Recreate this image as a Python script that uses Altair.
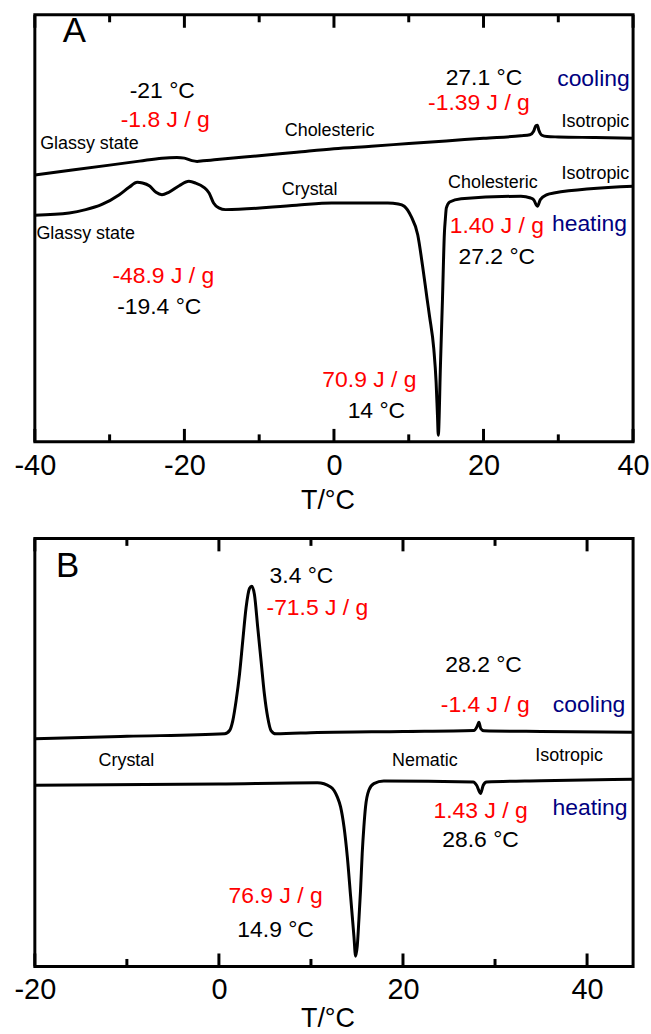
import altair as alt
import pandas as pd

FONT = "Liberation Sans"

# ---------------- Panel A data (heat flow in a.u., exo up) ----------------
A_COOL_T = [-40, -35, -30, -26, -23, -22, -21, -20, -19, -18.3, -17.5, -16, -10, -5, 0, 5, 10, 15, 20, 25,
            26.2, 26.7, 27.0, 27.2, 27.4, 27.8, 28.5, 30, 35, 40]
A_COOL_Q = [268, 273, 278, 282, 285, 285.5, 285.7, 285, 282.5, 281.7, 282.3, 283.3, 287.5, 291, 294.5, 297,
            299.7, 302.3, 305, 307.5, 308.5, 312, 317.5, 318, 313, 308, 306.7, 306.3, 305.7, 305]

A_HEAT_T = [-40, -35.4, -33.2, -31.1, -28.7, -27.4, -26.3, -25.6, -24.7, -23.8, -23, -22.1, -20.7, -19.4,
            -18.5, -17.4, -16.7, -16.1, -15.4, -14.5, -5, -0.3, 7.2, 8.6, 9.4, 10.3, 11.2, 11.85, 12.46,
            12.77, 13.35, 13.66, 13.84, 13.95, 14.24, 14.51, 14.77, 14.89, 15.03, 15.47, 17, 25, 26.3,
            26.7, 27.2, 27.6, 28.5, 29.4, 40]
A_HEAT_Q = [227.7, 230, 233.3, 238.3, 248.3, 255.7, 260.7, 260, 257.3, 250.7, 248.3, 250.7, 257.3, 261.7,
            260, 255.7, 250, 240, 235, 233.3, 237.8, 240, 240, 239, 236.7, 226.7, 208, 176.7, 143.3,
            126.7, 93.3, 60, 26.7, 6.7, 76.7, 143.3, 210, 223.3, 235, 241, 244.3, 246.7, 245,
            243.3, 236.7, 243.3, 248.3, 250, 256.7]

A_MAJOR = [-40, -20, 0, 20, 40]
A_MINOR = [-30, -10, 10, 30]

A_LETTER = [(-34.7, 411, "A")]
A_BLACK = [(-22.96, 350, "-21 °C"), (20.05, 363, "27.1 °C"), (21.78, 184, "27.2 °C"),
           (-23.36, 133, "-19.4 °C"), (5.67, 29, "14 °C")]
A_RED = [(-22.56, 321, "-1.8 J / g"), (19.39, 338, "-1.39 J / g"), (21.78, 215, "1.40 J / g"),
         (-22.82, 165, "-48.9 J / g"), (4.74, 60.5, "70.9 J / g")]
A_BLUE = [(34.7, 362, "cooling"), (34.17, 217, "heating")]
A_PHASE = [(-32.7, 297, "Glassy state"), (-33.2, 207, "Glassy state"), (-0.59, 310, "Cholesteric"),
           (-3.25, 251, "Crystal"), (34.97, 319, "Isotropic"), (34.97, 267, "Isotropic"),
           (21.25, 258, "Cholesteric")]

# ---------------- Panel B data ----------------
B_COOL_T = [-20, -10, 0.62, 1.16, 1.51, 1.87, 2.24, 2.59, 2.95, 3.32, 3.57, 3.86, 4.22, 4.58, 4.94, 5.30,
            5.66, 6.19, 10.7, 20, 27.7, 28.05, 28.25, 28.45, 28.8, 35, 45]
B_COOL_Q = [228.7, 231.2, 233.7, 237, 247, 267, 293.7, 327, 360.3, 379.7, 382, 373.7, 340.3, 307, 273.7,
            250.3, 237, 233.7, 235, 236, 237, 241, 245.3, 239, 236.8, 236, 235.3]

B_HEAT_T = [-20, 0, 10.7, 12.14, 12.86, 13.22, 13.59, 13.95, 14.31, 14.67, 14.85, 15.03, 15.21, 15.39,
            15.57, 15.75, 15.93, 16.29, 16.83, 17.91, 27.64, 28.0, 28.43, 28.72, 29.08, 35, 45]
B_HEAT_Q = [182, 183.2, 184.5, 180.3, 170.3, 160.3, 140.3, 110.3, 70.3, 30.3, 10.3, 20.3, 47, 77,
            113.7, 140.3, 160.3, 177, 183.7, 186.3, 185.3, 182, 173.7, 182, 185.3, 186.5, 188]

B_MAJOR = [-20, 0, 20, 40]
B_MINOR = [-10, 10, 30]

B_LETTER = [(-16.43, 400, "B")]
B_BLACK = [(8.97, 390.5, "3.4 °C"), (28.76, 300.5, "28.2 °C"), (28.43, 124.5, "28.6 °C"),
           (6.16, 34.5, "14.9 °C")]
B_RED = [(10.7, 358, "-71.5 J / g"), (28.94, 260.5, "-1.4 J / g"), (28.43, 154.5, "1.43 J / g"),
         (6.16, 68.5, "76.9 J / g")]
B_BLUE = [(40.22, 261, "cooling"), (40.32, 157, "heating")]
B_PHASE = [(-10.05, 204, "Crystal"), (22.38, 204, "Nematic"), (38.05, 209, "Isotropic")]


def ann_df(items):
    return pd.DataFrame({"T": [i[0] for i in items], "Q": [i[1] for i in items],
                         "label": [i[2] for i in items]})


def panel(cool_t, cool_q, heat_t, heat_q, major, minor, xdom, ydom, letter, black, red, blue, phase,
          w, h, title_pad):
    lines_df = pd.DataFrame({
        "T": list(cool_t) + list(heat_t),
        "Q": list(cool_q) + list(heat_q),
        "run": ["cooling"] * len(cool_t) + ["heating"] * len(heat_t),
    })
    xs = alt.Scale(domain=xdom, nice=False, zero=False)
    ys = alt.Scale(domain=ydom, nice=False, zero=False)
    xaxis = alt.Axis(values=major, ticks=False, tickSize=0, domain=False, grid=False,
                     labelExpr="'' + datum.value",
                     labelFontSize=29, labelPadding=9.5, labelFlush=False, labelColor="black",
                     labelFont=FONT, title="T/°C", titleFontSize=27, titleFont=FONT,
                     titleFontWeight="normal", titleColor="black", titlePadding=title_pad,
                     titleX=294, titleAlign="center")
    lines = alt.Chart(lines_df).mark_line(color="black", strokeWidth=3, interpolate="monotone").encode(
        x=alt.X("T:Q", scale=xs, axis=xaxis),
        y=alt.Y("Q:Q", scale=ys, axis=None),
        detail="run:N",
    )
    layers = [lines]
    for ticks, length in ((major, 13), (minor, 7.5)):
        tdf = pd.DataFrame({"T": ticks})
        layers.append(alt.Chart(tdf).mark_rule(color="black", strokeWidth=3).encode(
            x=alt.X("T:Q", scale=xs), y=alt.value(h), y2=alt.value(h - length)))
        layers.append(alt.Chart(tdf).mark_rule(color="black", strokeWidth=3).encode(
            x=alt.X("T:Q", scale=xs), y=alt.value(0), y2=alt.value(length)))

    def texts(items, size, color):
        return alt.Chart(ann_df(items)).mark_text(
            font=FONT, fontSize=size, color=color, align="center", baseline="middle", dy=-2
        ).encode(x=alt.X("T:Q", scale=xs), y=alt.Y("Q:Q", scale=ys, axis=None), text="label:N")

    layers += [texts(letter, 35, "black"), texts(black, 23, "black"), texts(red, 23, "#ff0000"),
               texts(blue, 23, "#000080"), texts(phase, 18, "black")]
    return alt.layer(*layers).properties(width=w, height=h)


pa = panel(A_COOL_T, A_COOL_Q, A_HEAT_T, A_HEAT_Q, A_MAJOR, A_MINOR, [-40, 40], [0, 429],
           A_LETTER, A_BLACK, A_RED, A_BLUE, A_PHASE, 601, 429, 7)
pb = panel(B_COOL_T, B_COOL_Q, B_HEAT_T, B_HEAT_Q, B_MAJOR, B_MINOR, [-20, 45], [0, 430],
           B_LETTER, B_BLACK, B_RED, B_BLUE, B_PHASE, 601, 430, 1)

chart = alt.vconcat(pa, pb, spacing=97, bounds="flush").properties(
    padding={"left": 12, "top": 9.5, "right": 0, "bottom": 0},
    background="white",
).configure_view(stroke="black", strokeWidth=3).configure_text(font=FONT)

chart.save("out.html", embed_options={"renderer": "svg", "actions": False})
